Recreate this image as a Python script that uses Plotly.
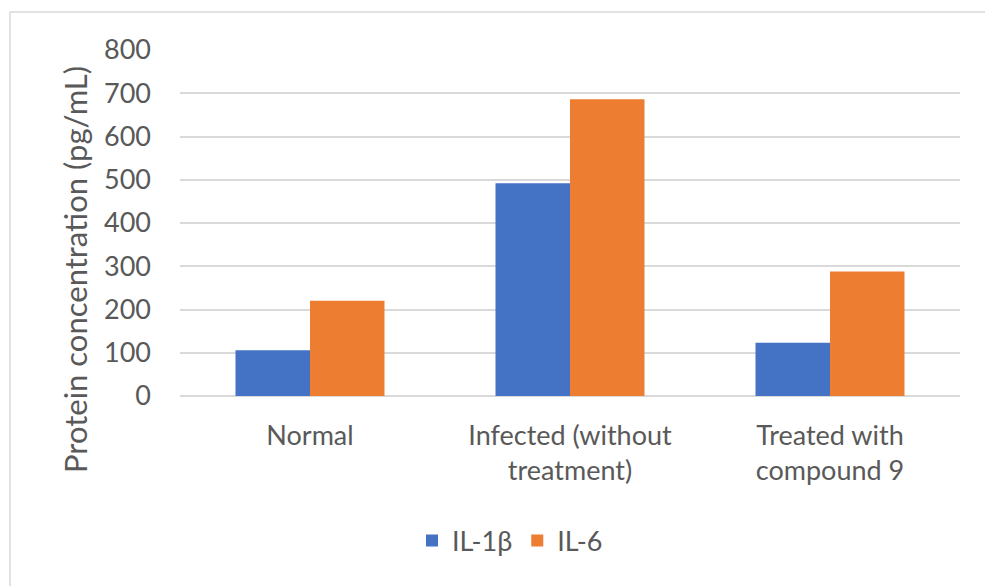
import plotly.graph_objects as go

# Cytokine levels per condition
categories = ["Normal", "Infected (without<br>treatment)", "Treated with<br>compound 9"]
il1b = [106, 492, 123]
il6 = [220, 686, 288]
y_ticks = [0, 100, 200, 300, 400, 500, 600, 700, 800]

W, H = 985, 586
L, R, T, B = 180, 25, 50, 190
plot_w = W - L - R
plot_h = H - T - B

def px_x(x):
    return (x - L) / plot_w

def px_y(y):
    return (H - B - y) / plot_h

text_color = "#595959"
grid_color = "#D9D9D9"
font_family = "Lato, Calibri, Carlito, sans-serif"

fig = go.Figure()
fig.add_trace(go.Bar(name="IL-1β", x=categories, y=il1b, marker_color="#4472C4",
                     marker_line_width=0))
fig.add_trace(go.Bar(name="IL-6", x=categories, y=il6, marker_color="#ED7D31",
                     marker_line_width=0))

fig.update_layout(
    width=W, height=H,
    margin=dict(l=L, r=R, t=T, b=B),
    paper_bgcolor="white", plot_bgcolor="white",
    barmode="group", bargap=0.427, bargroupgap=0,
    font=dict(family=font_family, color=text_color, size=27),
    showlegend=True,
    legend=dict(orientation="h", x=px_x(510), y=px_y(541), xanchor="center", yanchor="middle",
                font=dict(size=27, color=text_color), itemwidth=30,
                traceorder="normal"),
    xaxis=dict(showgrid=False, showline=False, zeroline=False, ticks="",
               tickfont=dict(size=27, color=text_color), ticklabelstandoff=21),
    yaxis=dict(range=[0, 800], tickvals=y_ticks, showgrid=True, gridcolor=grid_color,
               gridwidth=1.5, zeroline=True, zerolinecolor=grid_color, zerolinewidth=1.5,
               showline=False, ticks="", tickfont=dict(size=27, color=text_color),
               ticklabelstandoff=28),
    annotations=[dict(text="Protein concentration (pg/mL)", textangle=-90,
                      xref="paper", yref="paper", x=px_x(75), y=px_y(270),
                      xanchor="center", yanchor="middle", showarrow=False,
                      font=dict(size=31, color=text_color))],
    shapes=[dict(type="rect", xref="paper", yref="paper",
                 x0=px_x(10), x1=px_x(1000), y0=px_y(620), y1=px_y(12),
                 line=dict(color=grid_color, width=1.5), fillcolor="rgba(0,0,0,0)",
                 layer="below")],
)

fig.write_html("out.html")
